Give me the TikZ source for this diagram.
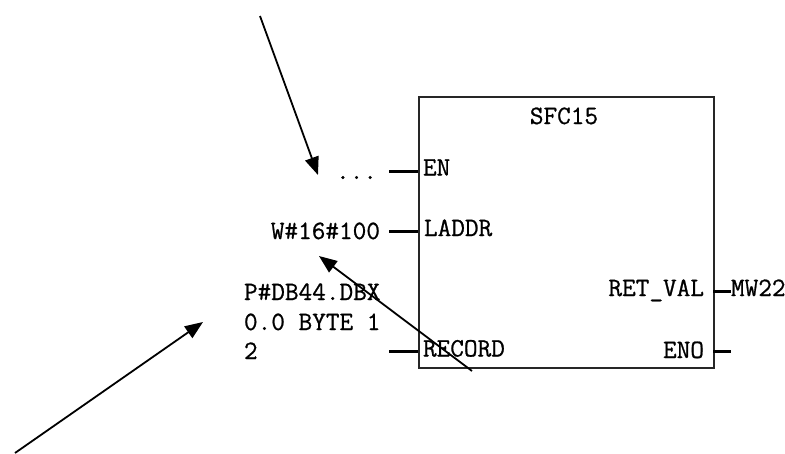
\documentclass[tikz,border=0pt]{standalone}
\usepackage{fontspec}
\usetikzlibrary{arrows.meta}
\newfontfamily\plcfont[FakeBold=0.8]{Latin Modern Mono}
\tikzset{
  plctext/.style={font=\plcfont\fontsize{26.5}{30}\selectfont, inner sep=0pt, outer sep=0pt},
  pinline/.style={line width=3pt},
  boxline/.style={draw=black!85, line width=1.8pt},
  callout/.style={line width=1.8pt, -{Triangle[length=18pt,width=14pt]}},
}
\begin{document}
\begin{tikzpicture}[x=1pt,y=-1pt]
\useasboundingbox (0,0) rectangle (785,453);
% block
\node[boxline, rectangle, minimum width=295pt, minimum height=271pt, inner sep=0pt, anchor=north west] (blk) at (418,96) {};
\node[plctext, anchor=base] (title) at (564,124) {SFC15};
% pins
\coordinate (enIn) at (418,171);
\coordinate (enOut) at (389,171);
\coordinate (laIn) at (418,231);
\coordinate (laOut) at (389,231);
\coordinate (reIn) at (418,351);
\coordinate (reOut) at (389,351);
\coordinate (rvIn) at (713,291.5);
\coordinate (rvOut) at (731,291.5);
\coordinate (enoIn) at (713,351);
\coordinate (enoOut) at (731,351);
\draw[pinline] (enOut) -- (enIn);
\draw[pinline] (laOut) -- (laIn);
\draw[pinline] (reOut) -- (reIn);
\draw[pinline] (rvIn) -- (rvOut);
\draw[pinline] (enoIn) -- (enoOut);
% pin labels
\node[plctext, anchor=base west] (en) at (423,175.5) {EN};
\node[plctext, anchor=base west] (laddr) at (424,236) {LADDR};
\node[plctext, anchor=base west] (record) at (423,356.5) {RECORD};
\node[plctext, anchor=base east] (retval) at (704,296) {RET\_VAL};
\node[plctext, anchor=base east] (eno) at (704,358) {ENO};
% actual parameters
\node[plctext, anchor=base west] (mw) at (731,296) {MW22};
\node[plctext, anchor=base east] (dots) at (377,179) {...};
\node[plctext, anchor=base east] (wval) at (380,239) {W\#16\#100};
\node[plctext, anchor=base west] (p1) at (244,300) {P\#DB44.DBX};
\node[plctext, anchor=base west] (p2) at (244,330) {0.0 BYTE 1};
\node[plctext, anchor=base west] (p3) at (244,359) {2};
% callout arrows
\coordinate (a1s) at (260,16);
\coordinate (a1e) at (318,175);
\coordinate (a2s) at (472,371);
\coordinate (a2e) at (319,256);
\coordinate (a3s) at (15,453);
\coordinate (a3e) at (203,322);
\draw[callout] (a1s) -- (a1e);
\draw[callout] (a2s) -- (a2e);
\draw[callout] (a3s) -- (a3e);
\end{tikzpicture}
\end{document}
